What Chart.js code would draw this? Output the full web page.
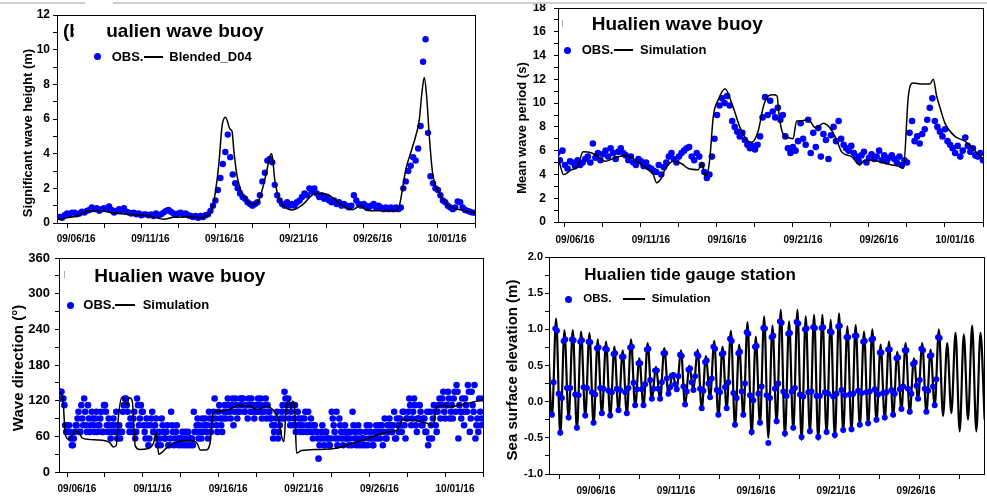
<!DOCTYPE html>
<html><head><meta charset="utf-8">
<script src="https://cdn.jsdelivr.net/npm/chart.js@4.4.1/dist/chart.umd.min.js"></script>
<style>
html,body{margin:0;padding:0;background:#fff;}
#root{position:relative;width:987px;height:502px;overflow:hidden;background:#fff;font-family:'Liberation Sans',Arial,sans-serif;}
canvas{position:absolute;}
.t{position:absolute;white-space:nowrap;font-weight:bold;color:#000;line-height:1;z-index:3;}
.dot{position:absolute;width:7px;height:7px;border-radius:50%;background:#0000ff;z-index:3;}
.ln{position:absolute;background:#000;z-index:3;}
.yt{position:absolute;white-space:nowrap;font-weight:bold;color:#000;line-height:1;transform:translate(-50%,-50%) rotate(-90deg);z-index:3;}
.deco{position:absolute;z-index:4;}
</style></head><body><div id="root">
<canvas id="c1" width="490" height="250" style="left:0;top:0;width:490px;height:250px"></canvas>
<canvas id="c2" width="497" height="250" style="left:490px;top:0;width:497px;height:250px"></canvas>
<canvas id="c3" width="490" height="252" style="left:0;top:250px;width:490px;height:252px"></canvas>
<canvas id="c4" width="497" height="252" style="left:490px;top:250px;width:497px;height:252px"></canvas>

<div class="deco" style="left:0;top:2px;width:85px;height:2px;background:#cfcfcf"></div>
<div class="deco" style="left:113px;top:2px;width:874px;height:2px;background:#cfcfcf"></div>
<div class="deco" style="left:562px;top:20px;width:1px;height:7px;background:#aaa"></div>
<div class="deco" style="left:64px;top:271px;width:1px;height:7px;background:#aaa"></div>

<!-- panel 1 -->
<div class="t" style="left:63px;top:20.6px;font-size:19px">(b) Hualien wave buoy</div>
<div class="deco" style="left:73.5px;top:18px;width:33px;height:24px;background:#fff"></div>
<div class="dot" style="left:94.2px;top:53.2px"></div>
<div class="t" style="left:111.7px;top:50px;font-size:13px">OBS.</div>
<div class="ln" style="left:144px;top:56px;width:19px;height:1.5px"></div>
<div class="t" style="left:169.3px;top:50px;font-size:13px">Blended_D04</div>
<div class="yt" style="left:26.7px;top:132.5px;font-size:13px">Significant wave height (m)</div>

<!-- panel 2 -->
<div class="t" style="left:591.7px;top:13.9px;font-size:19px">Hualien wave buoy</div>
<div class="dot" style="left:563.8px;top:46.5px"></div>
<div class="t" style="left:581.7px;top:43px;font-size:13px">OBS.</div>
<div class="ln" style="left:614px;top:49.3px;width:19px;height:1.5px"></div>
<div class="t" style="left:640px;top:43px;font-size:13px">Simulation</div>
<div class="yt" style="left:521px;top:128.3px;font-size:13px">Mean wave period (s)</div>

<!-- panel 3 -->
<div class="t" style="left:94.3px;top:265.6px;font-size:19px">Hualien wave buoy</div>
<div class="dot" style="left:66.5px;top:301.5px"></div>
<div class="t" style="left:83.3px;top:298.3px;font-size:13px">OBS.</div>
<div class="ln" style="left:115px;top:304.3px;width:20px;height:1.5px"></div>
<div class="t" style="left:142.7px;top:298.3px;font-size:13px">Simulation</div>
<div class="yt" style="left:16.7px;top:367.5px;font-size:15px">Wave direction (°)</div>

<!-- panel 4 -->
<div class="t" style="left:584.3px;top:266.3px;font-size:17px">Hualien tide gauge station</div>
<div class="dot" style="left:564.8px;top:295.5px"></div>
<div class="t" style="left:583.3px;top:292.6px;font-size:11.5px">OBS.</div>
<div class="ln" style="left:623.3px;top:298px;width:22px;height:2px"></div>
<div class="t" style="left:651.7px;top:292.6px;font-size:11.5px">Simulation</div>
<div class="yt" style="left:511px;top:370px;font-size:15px">Sea surface elevation (m)</div>
</div>
<script>
// ---------- shared x-axis ticks ----------
const xTickDays = [3.5, 6, 8.5, 11, 13.5, 16, 18.5, 21, 23.5, 26, 28.5, 31];
const xTickDaysTide = [3.5, 6, 8.5, 11, 13.5, 16, 18.5, 21, 23.5, 26, 28.5];
const xLabelDays = [6, 11, 16, 21, 26, 31];
const xTickLabels = ['09/06/16', '09/11/16', '09/16/16', '09/21/16', '09/26/16', '10/01/16'];

// ---------- (b) significant wave height ----------
const hsSimDay = [2.85,3.5,4.15,5.05,5.7,6.4,7.5,8.7,9.3,10.0,10.7,11.6,12.5,12.85,13.28,13.5,13.72,13.95,14.18,14.5,14.62,14.74,14.96,15.3,15.65,15.98,16.43,16.88,17.2,17.3,17.5,17.75,18.1,18.68,19.36,20.26,21.05,21.83,22.73,23.3,23.64,24.53,25.66,25.9,26.34,26.79,27.24,27.42,27.58,27.74,27.92,28.14,28.59,29.15,29.94,31.0];
const hsSimVal = [0.2,0.3,0.4,0.7,0.72,0.6,0.5,0.45,0.35,0.22,0.33,0.35,0.3,0.4,0.8,1.8,3.3,5.6,6.1,5.4,5.3,4.2,2.7,1.7,1.25,1.05,1.3,2.7,3.9,4.0,2.5,1.5,1.0,0.75,1.05,1.7,1.65,1.15,0.77,1.0,0.75,0.7,0.7,1.0,3.1,4.4,5.95,7.5,8.4,7.3,5.0,2.9,1.7,1.05,0.77,0.6];
const hsObsStart = 3.0, hsObsStep = 1 / 6;
const hsObsVal = [
 0.35,0.3,0.45,0.55,0.5,0.6,
 0.6,0.5,0.55,0.65,0.6,0.7,
 0.75,0.9,0.8,0.85,0.7,0.8,
 0.85,0.8,0.95,0.75,0.6,0.7,
 0.8,0.75,0.85,0.65,0.6,0.55,
 0.6,0.5,0.55,0.45,0.5,0.5,
 0.45,0.5,0.4,0.55,0.45,0.5,
 0.6,0.7,0.75,0.65,0.55,0.5,
 0.55,0.6,0.5,0.55,0.45,0.4,
 0.35,0.4,0.3,0.4,0.35,0.45,
 0.5,0.7,1.0,1.3,1.9,2.6,
 3.4,4.1,5.1,3.8,2.8,2.3,
 2.0,1.7,1.5,1.4,1.2,1.1,
 1.0,1.1,1.2,1.6,2.4,2.9,
 3.6,3.7,3.5,2.2,1.6,1.3,
 1.1,1.0,1.2,1.0,1.1,1.0,
 1.2,1.3,1.5,1.7,1.6,2.0,
 1.8,2.0,1.7,1.5,1.6,1.4,
 1.5,1.3,1.2,1.3,1.1,1.2,
 1.0,1.1,1.0,0.9,1.0,1.6,
 1.3,1.1,1.0,1.1,1.0,0.9,
 1.0,1.1,0.9,1.0,0.9,0.8,
 0.9,0.8,0.9,0.8,0.9,0.8,
 0.9,2.0,2.4,3.0,3.3,3.8,
 3.6,4.3,5.6,9.3,10.6,5.2,
 2.7,2.3,2.0,1.9,1.6,1.3,
 1.2,1.0,0.9,0.8,0.9,1.25,
 1.2,0.9,0.75,0.7,0.65,0.6,
 0.6];

// ---------- mean wave period ----------
const tmSimDay = [3.04,3.2,3.39,3.55,3.94,4.3,4.7,5.26,5.7,6.13,6.8,7.45,7.9,8.55,8.98,9.3,9.53,9.8,10.08,10.63,11.18,11.61,12.27,12.49,12.71,12.9,13.04,13.26,13.59,14.03,14.47,15.0,15.46,15.78,16.22,16.55,16.88,17.2,17.45,17.6,17.85,18.2,18.5,18.74,19.0,19.5,20.0,20.5,21.05,21.4,21.7,22.36,22.9,23.2,23.8,24.33,25.0,25.4,25.76,26.09,26.4,26.97,27.5,27.73,27.95,28.2,28.5,29.16,29.8,30.47,31.0];
const tmSimVal = [5.5,4.7,4.0,4.05,4.4,4.6,5.9,5.8,5.5,5.1,5.4,5.6,5.4,4.8,4.4,4.0,3.3,3.6,4.4,5.1,4.9,4.5,4.4,5.0,3.9,4.2,5.5,8.9,10.3,11.2,10.0,8.0,6.9,6.7,7.7,9.7,10.6,10.7,10.6,8.8,7.4,7.1,7.0,8.5,8.5,8.6,7.9,8.3,7.7,6.8,5.9,5.5,4.8,5.2,5.2,5.0,4.8,4.7,4.5,10.6,11.7,11.6,11.6,12.0,10.6,9.5,8.3,7.2,6.8,6.0,5.3];
const tmObsStart = 3.0, tmObsStep = 1 / 6;
const tmObsVal = [
 5.8,5.2,6.0,4.8,4.5,5.1,
 5.0,4.7,5.2,4.8,5.0,5.3,
 5.5,5.0,6.6,5.4,5.8,5.2,
 5.7,6.0,5.5,6.2,5.8,5.3,
 5.9,6.2,5.8,5.6,5.2,5.5,
 5.0,4.8,5.3,5.1,4.7,5.0,
 4.6,4.5,4.3,4.2,4.8,4.0,
 4.6,5.0,5.5,5.8,5.3,5.0,
 5.5,5.8,6.0,6.2,6.3,5.5,
 5.2,5.8,5.5,4.8,4.2,3.7,
 4.0,5.5,7.0,9.0,9.8,10.4,
 10.0,10.6,9.8,8.5,8.0,7.6,
 7.2,7.5,6.9,6.5,6.2,6.4,
 6.1,6.5,7.2,8.8,10.5,9.0,
 10.2,9.3,8.8,9.6,8.6,9.0,
 7.2,6.2,5.8,6.3,6.0,6.8,
 8.3,7.0,6.5,8.6,5.8,7.5,
 6.3,7.9,5.5,7.4,6.9,5.3,
 7.3,8.0,6.8,8.5,7.0,6.5,
 6.2,6.0,6.4,5.8,5.5,5.1,
 5.6,5.9,5.0,5.4,5.7,5.3,
 5.5,6.0,5.2,5.6,5.1,5.4,
 5.6,5.3,5.0,5.5,4.8,5.2,
 5.0,7.5,8.5,6.8,7.2,6.6,
 7.4,7.8,8.6,9.6,10.4,8.5,
 8.0,7.6,7.2,7.8,6.8,6.5,
 6.2,5.8,6.4,5.5,6.0,7.1,
 6.4,5.9,6.2,5.6,5.5,5.8,
 5.2];

// ---------- wave direction ----------
const dirSimDay = [2.95,3.05,3.22,3.38,3.6,3.82,4.05,4.3,4.5,5.5,6.3,6.55,6.75,6.9,7.1,7.3,7.45,7.6,7.8,8.0,8.3,8.8,9.2,9.4,9.55,10.1,10.7,11.6,12.1,12.3,12.65,12.95,13.15,13.85,14.3,14.85,15.6,16.05,16.7,17.05,17.45,17.68,17.83,18.0,18.18,18.3,18.4,18.56,18.67,19.0,20.2,21.3,22.0,22.6,23.3,24.0,24.6,25.3,25.7,26.6,27.3,27.7,27.92,28.25,28.8,29.7,31.0];
const dirSimVal = [130,133,122,63,55,62,68,66,57,54,50,42,45,95,125,120,112,125,120,44,38,39,48,67,30,41,50,53,48,37,37,48,100,103,106,112,111,105,111,106,90,60,51,111,119,106,119,100,32,36,38,40,45,50,56,62,67,70,88,86,82,77,108,112,110,114,122];
const dirObsStart = 3.0, dirObsStep = 0.125;
const dirObsVal = [
 123.75,135,123.75,78.75,67.5,78.75,56.25,45,
 67.5,78.75,101.25,67.5,90,123.75,78.75,112.5,
 67.5,101.25,78.75,90,67.5,78.75,101.25,67.5,
 112.5,78.75,90,56.25,78.75,67.5,101.25,67.5,
 56.25,67.5,112.5,123.75,101.25,67.5,78.75,90,
 56.25,123.75,78.75,112.5,101.25,67.5,90,45,
 78.75,101.25,67.5,90,45,56.25,90,67.5,
 56.25,78.75,45,101.25,67.5,56.25,78.75,45,
 56.25,67.5,45,56.25,67.5,45,56.25,101.25,
 67.5,90,78.75,56.25,67.5,90,78.75,101.25,
 67.5,90,123.75,78.75,101.25,90,67.5,101.25,
 90,123.75,101.25,112.5,78.75,123.75,90,101.25,
 112.5,123.75,101.25,112.5,123.75,101.25,112.5,90,
 101.25,123.75,112.5,90,101.25,123.75,112.5,101.25,
 90,56.25,78.75,101.25,67.5,90,112.5,135,
 101.25,123.75,78.75,112.5,90,67.5,101.25,78.75,
 90,67.5,101.25,78.75,67.5,90,56.25,78.75,
 67.5,22.5,56.25,78.75,45,67.5,56.25,45,
 101.25,78.75,56.25,45,90,67.5,45,78.75,
 56.25,45,67.5,101.25,56.25,45,78.75,67.5,
 45,56.25,67.5,45,78.75,56.25,45,67.5,
 56.25,78.75,67.5,45,90,56.25,67.5,78.75,
 67.5,101.25,56.25,78.75,90,67.5,101.25,56.25,
 90,123.75,78.75,101.25,112.5,67.5,90,101.25,
 78.75,90,67.5,45,101.25,56.25,112.5,78.75,
 101.25,123.75,112.5,135,90,112.5,123.75,101.25,
 90,135,146.25,56.25,101.25,123.75,78.75,112.5,
 146.25,67.5,135,101.25,56.25,90,123.75,78.75,
 123.75];
const dirObs2Start = 3.0625, dirObs2Step = 0.125;
const dirObs2Val = [
 135,123.75,112.5,67.5,78.75,67.5,45,56.25,
 78.75,90,67.5,112.5,78.75,101.25,67.5,90,
 78.75,90,67.5,101.25,78.75,90,67.5,112.5,
 101.25,67.5,78.75,67.5,90,78.75,56.25,78.75,
 67.5,101.25,123.75,112.5,78.75,90,67.5,101.25,
 67.5,112.5,90,101.25,78.75,56.25,78.75,56.25,
 90,67.5,78.75,56.25,67.5,45,78.75,56.25,
 67.5,45,56.25,78.75,45,67.5,56.25,56.25,
 45,56.25,67.5,45,56.25,56.25,45,67.5,
 78.75,56.25,67.5,90,78.75,67.5,56.25,90,
 78.75,101.25,90,67.5,112.5,78.75,90,112.5,
 101.25,112.5,90,123.75,101.25,112.5,101.25,123.75,
 123.75,101.25,112.5,90,112.5,123.75,101.25,112.5,
 112.5,101.25,123.75,101.25,112.5,90,101.25,90,
 78.75,67.5,90,56.25,78.75,101.25,90,123.75,
 112.5,90,101.25,78.75,112.5,78.75,90,67.5,
 78.75,90,67.5,101.25,78.75,67.5,78.75,67.5,
 56.25,45,67.5,56.25,67.5,56.25,45,56.25,
 90,67.5,101.25,56.25,78.75,56.25,67.5,56.25,
 67.5,56.25,45,78.75,67.5,56.25,45,56.25,
 56.25,45,78.75,56.25,67.5,45,56.25,78.75,
 67.5,56.25,78.75,67.5,56.25,78.75,90,67.5,
 78.75,56.25,90,67.5,78.75,101.25,78.75,90,
 101.25,112.5,90,123.75,78.75,90,112.5,78.75,
 90,67.5,101.25,56.25,78.75,90,101.25,67.5,
 112.5,90,123.75,101.25,112.5,135,90,112.5,
 123.75,101.25,135,112.5,90,101.25,123.75,101.25,
 135,90,112.5,146.25,78.75,67.5,101.25,90];

// ---------- sea surface elevation (tide) ----------
const tideSimStart = 2.80, tideSimStep = 0.26;   // successive high / low waters
const tideSimVal = [
 0.95,-0.21,1.15,-0.46,0.99,-0.25,0.99,-0.39,0.97,-0.22,
 0.95,-0.32,0.86,-0.18,0.83,-0.22,0.76,-0.14,0.71,-0.18,
 0.86,-0.07,0.60,-0.07,0.81,0.02,0.48,0.02,0.74,0.09,
 0.39,0.16,0.71,-0.06,0.50,0.15,0.72,-0.11,0.63,0.04,
 0.84,-0.21,0.76,-0.11,0.98,-0.35,0.79,-0.21,1.10,-0.46,
 0.90,-0.32,1.18,-0.50,1.05,-0.30,1.27,-0.48,1.11,-0.39,
 1.27,-0.53,1.18,-0.44,1.20,-0.53,1.20,-0.45,1.13,-0.50,
 1.22,-0.42,1.04,-0.41,1.06,-0.35,0.97,-0.33,1.00,-0.28,
 0.79,-0.25,0.83,-0.21,0.69,-0.12,0.81,-0.16,0.60,0.02,
 0.81,-0.16,0.72,-0.07,1.00,-0.20,0.81,-0.16,0.95,-0.41,
 0.93,-0.25,1.05,-0.41,0.95,-0.25];
const tideObsStart = 3.06, tideObsStep = 0.104;
const tideObsVal = [
 -0.18,0.27,1.01,0.98,0.11,  -0.43,0.05,0.84,0.86,0.19,  -0.22,0.19,0.86,0.85,0.10,  -0.36,0.09,0.83,0.85,0.20,
 -0.19,0.19,0.83,0.82,0.13,  -0.29,0.10,0.74,0.75,0.19,  -0.16,0.18,0.73,0.72,0.15,  -0.19,0.13,0.66,0.67,0.18,
 -0.12,0.16,0.62,0.62,0.13,  -0.16,0.19,0.75,0.76,0.26,  -0.05,0.17,0.53,0.53,0.17,  -0.05,0.24,0.72,0.73,0.30,
 0.04,0.18,0.43,0.43,0.18,   0.04,0.27,0.67,0.67,0.32,   0.11,0.20,0.36,0.37,0.24,   0.17,0.35,0.65,0.63,0.21,
 -0.04,0.14,0.44,0.46,0.27,  0.16,0.35,0.66,0.63,0.18,   -0.09,0.15,0.55,0.57,0.25,  0.06,0.32,0.76,0.73,0.16,
 -0.18,0.13,0.66,0.67,0.20,  -0.09,0.27,0.87,0.84,0.12,  -0.32,0.05,0.67,0.69,0.14,  -0.18,0.25,0.96,0.94,0.09,
 -0.42,0.02,0.76,0.77,0.11,  -0.29,0.21,1.02,1.01,0.09,  -0.57,0.05,0.89,0.91,0.18,  -0.27,0.25,1.11,1.09,0.14,
 -0.44,0.08,0.94,0.95,0.14,  -0.36,0.19,1.10,1.08,0.10,  -0.49,0.07,1.00,1.01,0.13,  -0.41,0.14,1.03,1.02,0.08,
 -0.49,0.08,1.02,1.03,0.13,  -0.42,0.11,0.97,0.96,0.07,  -0.46,0.11,1.04,1.05,0.16,  -0.39,0.09,0.89,0.89,0.10,
 -0.38,0.11,0.91,0.91,0.15,  -0.32,0.12,0.83,0.84,0.13,  -0.30,0.14,0.86,0.87,0.17,  -0.25,0.10,0.68,0.68,0.12,
 -0.22,0.13,0.72,0.72,0.16,  -0.18,0.11,0.60,0.61,0.17,  -0.10,0.21,0.71,0.71,0.18,  -0.14,0.11,0.52,0.54,0.22,
 0.04,0.30,0.73,0.71,0.18,   -0.14,0.15,0.63,0.64,0.21,  -0.05,0.31,0.89,0.88];

// ---------- helpers ----------
const zip = (xs, ys) => xs.map((x, i) => ({x: x, y: ys[i]}));
const series = (start, step, vals) => vals.map((v, k) => ({x: start + k * step, y: v}));

Chart.defaults.font.family = "'Liberation Sans', Arial, sans-serif";
Chart.defaults.color = '#000';

function makePanel(id, p) {
  const lineDs = {type: 'line', label: p.lineLabel, data: p.line, borderColor: '#000', backgroundColor: '#000',
    borderWidth: p.lw, pointRadius: 0, pointHoverRadius: 0, fill: false, cubicInterpolationMode: 'monotone', order: p.lineOrder};
  const obsDs = {type: 'scatter', label: 'OBS.', data: p.obs, backgroundColor: '#0000ff', borderColor: '#0000ff',
    borderWidth: 0, pointRadius: p.r, pointHoverRadius: p.r, order: p.obsOrder};
  new Chart(document.getElementById(id), {
    type: 'scatter',
    data: {datasets: [lineDs, obsDs]},
    options: {
      responsive: false, animation: false, devicePixelRatio: 1, events: [],
      layout: {padding: {left: 0, top: p.T, right: p.R, bottom: 0}},
      plugins: {legend: {display: false}, tooltip: {enabled: false}},
      scales: {
        x: {type: 'linear', position: 'bottom', min: p.xmin, max: p.xmax,
          afterBuildTicks: s => { s.ticks = p.xticks.map(v => ({value: v})); },
          afterFit: s => { s.height = p.H; s.paddingLeft = 0; s.paddingRight = 0; },
          ticks: {autoSkip: false, maxRotation: 0, minRotation: 0, labelOffset: p.lo, padding: p.xpad, color: '#000',
            font: {size: 10, weight: 'bold'},
            callback: v => { const j = xLabelDays.indexOf(v); return j >= 0 ? xTickLabels[j] : ''; }},
          grid: {drawOnChartArea: false, drawTicks: true, tickLength: 5, color: '#000', tickColor: '#000', lineWidth: 1},
          border: {display: true, color: '#000', width: 1}},
        y: {type: 'linear', position: 'left', min: p.ymin, max: p.ymax,
          afterFit: s => { s.width = p.W; s.paddingTop = 0; s.paddingBottom = 0; },
          ticks: {stepSize: p.ystep, autoSkip: false, padding: p.ypad, color: '#000',
            font: {size: p.yfs, weight: 'bold'}, callback: p.ylab},
          grid: {drawOnChartArea: false, drawTicks: true, tickLength: 4, color: '#000', tickColor: '#000', lineWidth: 1},
          border: {display: true, color: '#000', width: 1}},
        xTop: {type: 'linear', position: 'top', min: 0, max: 1,
          afterFit: s => { s.height = 0; s.paddingLeft = 0; s.paddingRight = 0; },
          ticks: {display: false}, grid: {display: true, drawOnChartArea: false, drawTicks: false},
          border: {display: true, color: '#000', width: 1}},
        yRight: {type: 'linear', position: 'right', min: 0, max: 1,
          afterFit: s => { s.width = 0; s.paddingTop = 0; s.paddingBottom = 0; },
          ticks: {display: false}, grid: {display: true, drawOnChartArea: false, drawTicks: false},
          border: {display: true, color: '#000', width: 1}}
      }
    }
  });
}

makePanel('c1', {
  line: zip(hsSimDay, hsSimVal), obs: series(hsObsStart, hsObsStep, hsObsVal), lineLabel: 'Blended_D04',
  lw: 1.5, r: 3.2, lineOrder: 0, obsOrder: 1,
  T: 15, R: 15, W: 57, H: 27, xmin: 2.82, xmax: 31, xticks: xTickDays, lo: -28, xpad: 5,
  ymin: 0, ymax: 12, ystep: 1, yfs: 12, ypad: 3, ylab: v => (v % 2 === 0 ? String(v) : '')
});
makePanel('c2', {
  line: zip(tmSimDay, tmSimVal), obs: series(tmObsStart, tmObsStep, tmObsVal), lineLabel: 'Simulation',
  lw: 1.5, r: 3.3, lineOrder: 0, obsOrder: 1,
  T: 8, R: 4, W: 68, H: 28, xmin: 3.04, xmax: 31, xticks: xTickDays, lo: -28, xpad: 7,
  ymin: 0, ymax: 18, ystep: 1, yfs: 12, ypad: 8, ylab: v => (v % 2 === 0 ? String(v) : '')
});
makePanel('c3', {
  line: zip(dirSimDay, dirSimVal),
  obs: series(dirObsStart, dirObsStep, dirObsVal).concat(series(dirObs2Start, dirObs2Step, dirObs2Val)),
  lineLabel: 'Simulation',
  lw: 1.5, r: 3.3, lineOrder: 0, obsOrder: 1,
  T: 8, R: 7, W: 59, H: 30, xmin: 2.96, xmax: 31, xticks: xTickDays, lo: -28, xpad: 6,
  ymin: 0, ymax: 360, ystep: 30, yfs: 13, ypad: 5, ylab: v => (v % 60 === 0 ? String(v) : '')
});
makePanel('c4', {
  line: series(tideSimStart, tideSimStep, tideSimVal), obs: series(tideObsStart, tideObsStep, tideObsVal), lineLabel: 'Simulation',
  lw: 2.2, r: 3, lineOrder: 1, obsOrder: 0,
  T: 7, R: 3, W: 59, H: 28, xmin: 2.875, xmax: 30.06, xticks: xTickDaysTide, lo: -3, xpad: 6,
  ymin: -1, ymax: 2, ystep: 0.25, yfs: 11, ypad: 2,
  ylab: v => (Math.abs(v * 2 - Math.round(v * 2)) < 1e-9 ? v.toFixed(1) : '')
});
</script>
</body></html>
